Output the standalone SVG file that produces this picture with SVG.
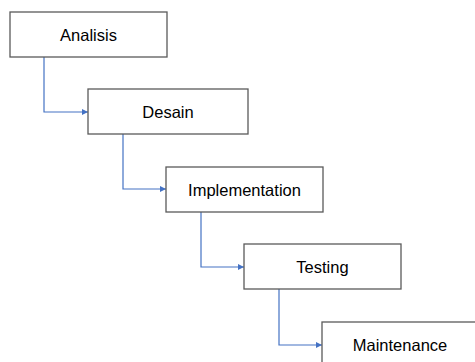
<svg xmlns="http://www.w3.org/2000/svg" width="475" height="362" viewBox="0 0 475 362">
<defs>
<marker id="arr" markerWidth="6" markerHeight="6" refX="6" refY="3" orient="auto" markerUnits="userSpaceOnUse">
<path d="M0,0 L6,3 L0,6 Z" fill="#4472C4"/>
</marker>
<style>
.box{fill:#fff;stroke:#5a5a5a;stroke-width:1.3}
.lbl{font-family:"Liberation Sans",Arial,sans-serif;font-size:16.5px;fill:#000;text-anchor:middle}
.con{fill:none;stroke:#4472C4;stroke-width:1.2;marker-end:url(#arr)}
</style>
</defs>
<rect width="475" height="362" fill="#fff"/>
<g id="connectors">
<path class="con" d="M44,57 V112 H88"/>
<path class="con" d="M123,134 V189 H166"/>
<path class="con" d="M201,212 V267 H244"/>
<path class="con" d="M279,289 V345 H322"/>
</g>
<g id="analisis"><rect class="box" x="10" y="12" width="157" height="45"/><text class="lbl" x="88.5" y="40.5">Analisis</text></g>
<g id="desain"><rect class="box" x="88" y="89" width="160" height="45"/><text class="lbl" x="168" y="117.5">Desain</text></g>
<g id="implementation"><rect class="box" x="166" y="167" width="157" height="45"/><text class="lbl" x="244.5" y="195.5">Implementation</text></g>
<g id="testing"><rect class="box" x="244" y="244" width="157" height="45"/><text class="lbl" x="322.5" y="272.5">Testing</text></g>
<g id="maintenance"><rect class="box" x="322" y="322" width="157" height="45"/><text class="lbl" x="400" y="350.5">Maintenance</text></g>
</svg>
